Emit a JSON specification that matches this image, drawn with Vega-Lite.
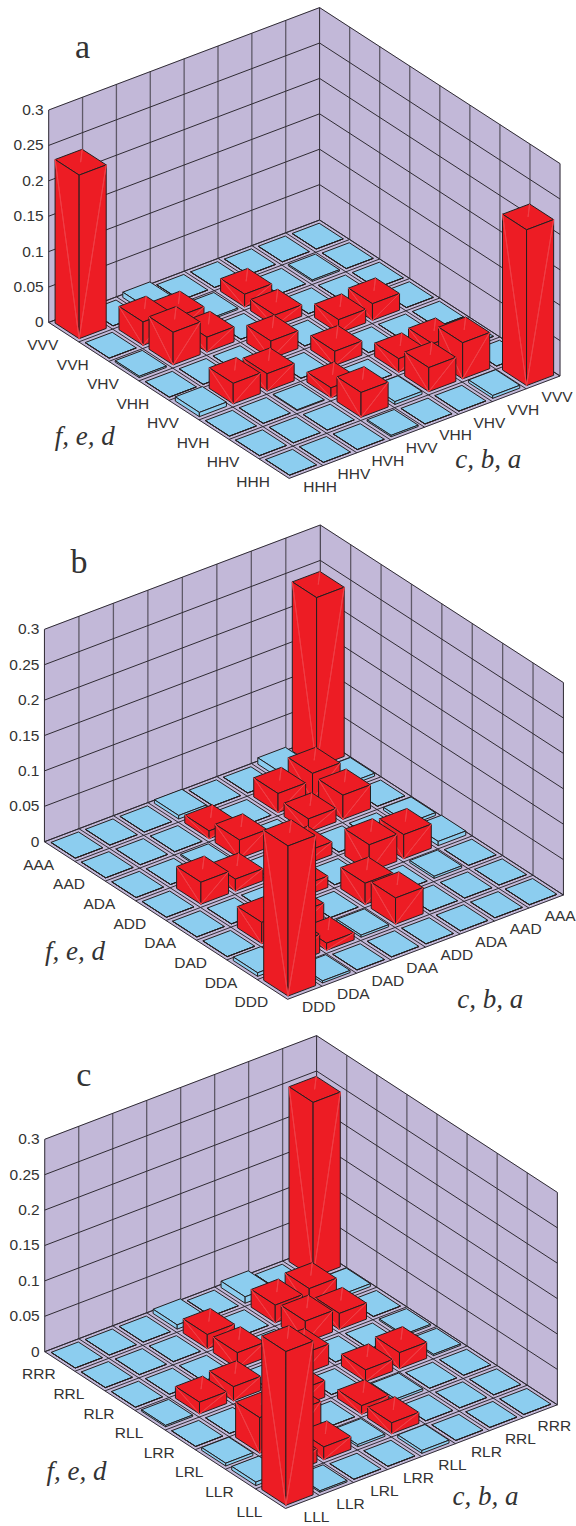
{"$schema":"https://vega.github.io/schema/vega-lite/v6.json","width":576,"height":1526,"autosize":{"type":"fit","contains":"padding"},"padding":0,"background":"white","config":{"view":{"stroke":null}},
"params":[
{"name":"P","value":{"a":{"bx":320.7,"by":220,"ix":30.16,"iy":19.5,"jx":-33.98,"jy":12.8},"b":{"bx":321.4,"by":737.4,"ix":30.5,"iy":19.7,"jx":-34.6,"jy":13.04},"c":{"bx":317.7,"by":1248,"ix":30.2,"iy":19.6,"jx":-34.1,"jy":12.96}}},
{"name":"ZS","value":708},
{"name":"FA","value":{"top":[0,1,1,0],"left":[0,1,1,0],"right":[1,1,1,1],"diagL":[1,0],"diagR":[1,1],"diagT":[0,0.5]}},
{"name":"FB","value":{"top":[0,0,1,1],"left":[1,1,1,1],"right":[0,1,1,0],"diagL":[1,1],"diagR":[1,0],"diagT":[0,0.5]}},
{"name":"FH","value":{"top":[1,1,1,1],"left":[1,1,0,0],"right":[1,1,0,0],"diagL":[0,1],"diagR":[0,1],"diagT":[1,1]}},
{"name":"PA","value":{"left":[0,0,0,0],"right":[0,8,8,0],"floor":[0,8,8,0]}},
{"name":"PB","value":{"left":[8,0,0,8],"right":[0,0,0,0],"floor":[0,0,8,8]}},
{"name":"PH","value":{"left":[0,0,0.3,0.3],"right":[0,0,0.3,0.3],"floor":[0,0,0,0]}}
],
"datasets":{
"planes":[{"plane":"left"},{"plane":"right"},{"plane":"floor"}],
"grid":[{"kind":"leftV","at":[1,2,3,4,5,6,7]},{"kind":"rightV","at":[1,2,3,4,5,6,7]},{"kind":"edgeV","at":[0,8]},{"kind":"edgeW","at":[8]},{"kind":"leftH","at":[0,0.05,0.1,0.15,0.2,0.25,0.3]},{"kind":"rightH","at":[0,0.05,0.1,0.15,0.2,0.25,0.3]},{"kind":"floorI","at":[0,1,2,3,4,5,6,7,8]},{"kind":"floorJ","at":[0,1,2,3,4,5,6,7,8]}],
"ticks":[
{"panel":"a","role":"fed","idx":0,"label":"VVV"},{"panel":"a","role":"fed","idx":1,"label":"VVH"},{"panel":"a","role":"fed","idx":2,"label":"VHV"},{"panel":"a","role":"fed","idx":3,"label":"VHH"},{"panel":"a","role":"fed","idx":4,"label":"HVV"},{"panel":"a","role":"fed","idx":5,"label":"HVH"},{"panel":"a","role":"fed","idx":6,"label":"HHV"},{"panel":"a","role":"fed","idx":7,"label":"HHH"},
{"panel":"a","role":"cba","idx":0,"label":"VVV"},{"panel":"a","role":"cba","idx":1,"label":"VVH"},{"panel":"a","role":"cba","idx":2,"label":"VHV"},{"panel":"a","role":"cba","idx":3,"label":"VHH"},{"panel":"a","role":"cba","idx":4,"label":"HVV"},{"panel":"a","role":"cba","idx":5,"label":"HVH"},{"panel":"a","role":"cba","idx":6,"label":"HHV"},{"panel":"a","role":"cba","idx":7,"label":"HHH"},
{"panel":"b","role":"fed","idx":0,"label":"AAA"},{"panel":"b","role":"fed","idx":1,"label":"AAD"},{"panel":"b","role":"fed","idx":2,"label":"ADA"},{"panel":"b","role":"fed","idx":3,"label":"ADD"},{"panel":"b","role":"fed","idx":4,"label":"DAA"},{"panel":"b","role":"fed","idx":5,"label":"DAD"},{"panel":"b","role":"fed","idx":6,"label":"DDA"},{"panel":"b","role":"fed","idx":7,"label":"DDD"},
{"panel":"b","role":"cba","idx":0,"label":"AAA"},{"panel":"b","role":"cba","idx":1,"label":"AAD"},{"panel":"b","role":"cba","idx":2,"label":"ADA"},{"panel":"b","role":"cba","idx":3,"label":"ADD"},{"panel":"b","role":"cba","idx":4,"label":"DAA"},{"panel":"b","role":"cba","idx":5,"label":"DAD"},{"panel":"b","role":"cba","idx":6,"label":"DDA"},{"panel":"b","role":"cba","idx":7,"label":"DDD"},
{"panel":"c","role":"fed","idx":0,"label":"RRR"},{"panel":"c","role":"fed","idx":1,"label":"RRL"},{"panel":"c","role":"fed","idx":2,"label":"RLR"},{"panel":"c","role":"fed","idx":3,"label":"RLL"},{"panel":"c","role":"fed","idx":4,"label":"LRR"},{"panel":"c","role":"fed","idx":5,"label":"LRL"},{"panel":"c","role":"fed","idx":6,"label":"LLR"},{"panel":"c","role":"fed","idx":7,"label":"LLL"},
{"panel":"c","role":"cba","idx":0,"label":"RRR"},{"panel":"c","role":"cba","idx":1,"label":"RRL"},{"panel":"c","role":"cba","idx":2,"label":"RLR"},{"panel":"c","role":"cba","idx":3,"label":"RLL"},{"panel":"c","role":"cba","idx":4,"label":"LRR"},{"panel":"c","role":"cba","idx":5,"label":"LRL"},{"panel":"c","role":"cba","idx":6,"label":"LLR"},{"panel":"c","role":"cba","idx":7,"label":"LLL"}
],
"zticks":[{"value":0,"label":"0"},{"value":0.05,"label":"0.05"},{"value":0.1,"label":"0.1"},{"value":0.15,"label":"0.15"},{"value":0.2,"label":"0.2"},{"value":0.25,"label":"0.25"},{"value":0.3,"label":"0.3"}],
"titles":[
{"panel":"a","role":"title","label":"a","u":0,"v":7,"w":0.37},{"panel":"b","role":"title","label":"b","u":0,"v":7,"w":0.375},{"panel":"c","role":"title","label":"c","u":0,"v":6.85,"w":0.368},
{"panel":"a","role":"math","label":"f, e, d","u":4.155,"v":10.62,"w":0},{"panel":"a","role":"math","label":"c, b, a","u":9.84,"v":3.75,"w":0},
{"panel":"b","role":"math","label":"f, e, d","u":3.9,"v":10.55,"w":0},{"panel":"b","role":"math","label":"c, b, a","u":10.48,"v":4.31,"w":0},
{"panel":"c","role":"math","label":"f, e, d","u":4.26,"v":10.84,"w":0},{"panel":"c","role":"math","label":"c, b, a","u":10.08,"v":3.96,"w":0}
],
"cells":[
{"panel":"a","fed":0,"cba":0,"value":0},{"panel":"a","fed":0,"cba":1,"value":0},{"panel":"a","fed":0,"cba":2,"value":0},{"panel":"a","fed":0,"cba":3,"value":0},{"panel":"a","fed":0,"cba":4,"value":0},{"panel":"a","fed":0,"cba":5,"value":0.0075},{"panel":"a","fed":0,"cba":6,"value":0},{"panel":"a","fed":0,"cba":7,"value":0.231},
{"panel":"a","fed":1,"cba":0,"value":0},{"panel":"a","fed":1,"cba":1,"value":0.002},{"panel":"a","fed":1,"cba":2,"value":0},{"panel":"a","fed":1,"cba":3,"value":0.018},{"panel":"a","fed":1,"cba":4,"value":0.002},{"panel":"a","fed":1,"cba":5,"value":0.022},{"panel":"a","fed":1,"cba":6,"value":0.033},{"panel":"a","fed":1,"cba":7,"value":0},
{"panel":"a","fed":2,"cba":0,"value":0},{"panel":"a","fed":2,"cba":1,"value":0},{"panel":"a","fed":2,"cba":2,"value":0},{"panel":"a","fed":2,"cba":3,"value":0.016},{"panel":"a","fed":2,"cba":4,"value":0},{"panel":"a","fed":2,"cba":5,"value":0.021},{"panel":"a","fed":2,"cba":6,"value":0.046},{"panel":"a","fed":2,"cba":7,"value":0.002},
{"panel":"a","fed":3,"cba":0,"value":0},{"panel":"a","fed":3,"cba":1,"value":0.0235},{"panel":"a","fed":3,"cba":2,"value":0.019},{"panel":"a","fed":3,"cba":3,"value":0},{"panel":"a","fed":3,"cba":4,"value":0.025},{"panel":"a","fed":3,"cba":5,"value":0},{"panel":"a","fed":3,"cba":6,"value":0},{"panel":"a","fed":3,"cba":7,"value":0},
{"panel":"a","fed":4,"cba":0,"value":0},{"panel":"a","fed":4,"cba":1,"value":0},{"panel":"a","fed":4,"cba":2,"value":0},{"panel":"a","fed":4,"cba":3,"value":0.02},{"panel":"a","fed":4,"cba":4,"value":0},{"panel":"a","fed":4,"cba":5,"value":0.0245},{"panel":"a","fed":4,"cba":6,"value":0.029},{"panel":"a","fed":4,"cba":7,"value":0.006},
{"panel":"a","fed":5,"cba":0,"value":0},{"panel":"a","fed":5,"cba":1,"value":0.022},{"panel":"a","fed":5,"cba":2,"value":0.019},{"panel":"a","fed":5,"cba":3,"value":0},{"panel":"a","fed":5,"cba":4,"value":0.014},{"panel":"a","fed":5,"cba":5,"value":0.001},{"panel":"a","fed":5,"cba":6,"value":0},{"panel":"a","fed":5,"cba":7,"value":0},
{"panel":"a","fed":6,"cba":0,"value":0},{"panel":"a","fed":6,"cba":1,"value":0.051},{"panel":"a","fed":6,"cba":2,"value":0.034},{"panel":"a","fed":6,"cba":3,"value":0.004},{"panel":"a","fed":6,"cba":4,"value":0.035},{"panel":"a","fed":6,"cba":5,"value":0},{"panel":"a","fed":6,"cba":6,"value":0},{"panel":"a","fed":6,"cba":7,"value":0},
{"panel":"a","fed":7,"cba":0,"value":0.22},{"panel":"a","fed":7,"cba":1,"value":0.004},{"panel":"a","fed":7,"cba":2,"value":0},{"panel":"a","fed":7,"cba":3,"value":0},{"panel":"a","fed":7,"cba":4,"value":0.002},{"panel":"a","fed":7,"cba":5,"value":0},{"panel":"a","fed":7,"cba":6,"value":0},{"panel":"a","fed":7,"cba":7,"value":0},
{"panel":"b","fed":0,"cba":0,"value":0.239},{"panel":"b","fed":0,"cba":1,"value":0.009},{"panel":"b","fed":0,"cba":2,"value":0},{"panel":"b","fed":0,"cba":3,"value":0},{"panel":"b","fed":0,"cba":4,"value":0.005},{"panel":"b","fed":0,"cba":5,"value":0},{"panel":"b","fed":0,"cba":6,"value":0},{"panel":"b","fed":0,"cba":7,"value":0},
{"panel":"b","fed":1,"cba":0,"value":0.004},{"panel":"b","fed":1,"cba":1,"value":0.037},{"panel":"b","fed":1,"cba":2,"value":0.027},{"panel":"b","fed":1,"cba":3,"value":0},{"panel":"b","fed":1,"cba":4,"value":0.011},{"panel":"b","fed":1,"cba":5,"value":0},{"panel":"b","fed":1,"cba":6,"value":0},{"panel":"b","fed":1,"cba":7,"value":0},
{"panel":"b","fed":2,"cba":0,"value":0},{"panel":"b","fed":2,"cba":1,"value":0.034},{"panel":"b","fed":2,"cba":2,"value":0.019},{"panel":"b","fed":2,"cba":3,"value":0},{"panel":"b","fed":2,"cba":4,"value":0.026},{"panel":"b","fed":2,"cba":5,"value":0.002},{"panel":"b","fed":2,"cba":6,"value":0},{"panel":"b","fed":2,"cba":7,"value":0},
{"panel":"b","fed":3,"cba":0,"value":0.004},{"panel":"b","fed":3,"cba":1,"value":0},{"panel":"b","fed":3,"cba":2,"value":0},{"panel":"b","fed":3,"cba":3,"value":0.018},{"panel":"b","fed":3,"cba":4,"value":0},{"panel":"b","fed":3,"cba":5,"value":0.017},{"panel":"b","fed":3,"cba":6,"value":0.031},{"panel":"b","fed":3,"cba":7,"value":0},
{"panel":"b","fed":4,"cba":0,"value":0.006},{"panel":"b","fed":4,"cba":1,"value":0.034},{"panel":"b","fed":4,"cba":2,"value":0.038},{"panel":"b","fed":4,"cba":3,"value":0},{"panel":"b","fed":4,"cba":4,"value":0.016},{"panel":"b","fed":4,"cba":5,"value":0},{"panel":"b","fed":4,"cba":6,"value":0},{"panel":"b","fed":4,"cba":7,"value":0},
{"panel":"b","fed":5,"cba":0,"value":0},{"panel":"b","fed":5,"cba":1,"value":0.003},{"panel":"b","fed":5,"cba":2,"value":0},{"panel":"b","fed":5,"cba":3,"value":0.03},{"panel":"b","fed":5,"cba":4,"value":0},{"panel":"b","fed":5,"cba":5,"value":0.024},{"panel":"b","fed":5,"cba":6,"value":0.03},{"panel":"b","fed":5,"cba":7,"value":0},
{"panel":"b","fed":6,"cba":0,"value":0},{"panel":"b","fed":6,"cba":1,"value":0},{"panel":"b","fed":6,"cba":2,"value":0},{"panel":"b","fed":6,"cba":3,"value":0.037},{"panel":"b","fed":6,"cba":4,"value":0.003},{"panel":"b","fed":6,"cba":5,"value":0.01},{"panel":"b","fed":6,"cba":6,"value":0.026},{"panel":"b","fed":6,"cba":7,"value":0.005},
{"panel":"b","fed":7,"cba":0,"value":0},{"panel":"b","fed":7,"cba":1,"value":0},{"panel":"b","fed":7,"cba":2,"value":0},{"panel":"b","fed":7,"cba":3,"value":0},{"panel":"b","fed":7,"cba":4,"value":0},{"panel":"b","fed":7,"cba":5,"value":0},{"panel":"b","fed":7,"cba":6,"value":0.003},{"panel":"b","fed":7,"cba":7,"value":0.212},
{"panel":"c","fed":0,"cba":0,"value":0.247},{"panel":"c","fed":0,"cba":1,"value":0},{"panel":"c","fed":0,"cba":2,"value":0.009},{"panel":"c","fed":0,"cba":3,"value":0},{"panel":"c","fed":0,"cba":4,"value":0.006},{"panel":"c","fed":0,"cba":5,"value":0},{"panel":"c","fed":0,"cba":6,"value":0},{"panel":"c","fed":0,"cba":7,"value":0},
{"panel":"c","fed":1,"cba":0,"value":0.004},{"panel":"c","fed":1,"cba":1,"value":0.03},{"panel":"c","fed":1,"cba":2,"value":0.025},{"panel":"c","fed":1,"cba":3,"value":0},{"panel":"c","fed":1,"cba":4,"value":0.02},{"panel":"c","fed":1,"cba":5,"value":0},{"panel":"c","fed":1,"cba":6,"value":0},{"panel":"c","fed":1,"cba":7,"value":0},
{"panel":"c","fed":2,"cba":0,"value":0},{"panel":"c","fed":2,"cba":1,"value":0.0226},{"panel":"c","fed":2,"cba":2,"value":0.03},{"panel":"c","fed":2,"cba":3,"value":0},{"panel":"c","fed":2,"cba":4,"value":0.022},{"panel":"c","fed":2,"cba":5,"value":0},{"panel":"c","fed":2,"cba":6,"value":0},{"panel":"c","fed":2,"cba":7,"value":0},
{"panel":"c","fed":3,"cba":0,"value":0.002},{"panel":"c","fed":3,"cba":1,"value":0},{"panel":"c","fed":3,"cba":2,"value":0},{"panel":"c","fed":3,"cba":3,"value":0.029},{"panel":"c","fed":3,"cba":4,"value":0},{"panel":"c","fed":3,"cba":5,"value":0.02},{"panel":"c","fed":3,"cba":6,"value":0.0165},{"panel":"c","fed":3,"cba":7,"value":0.002},
{"panel":"c","fed":4,"cba":0,"value":0.002},{"panel":"c","fed":4,"cba":1,"value":0.0226},{"panel":"c","fed":4,"cba":2,"value":0.0165},{"panel":"c","fed":4,"cba":3,"value":0},{"panel":"c","fed":4,"cba":4,"value":0.0235},{"panel":"c","fed":4,"cba":5,"value":0},{"panel":"c","fed":4,"cba":6,"value":0},{"panel":"c","fed":4,"cba":7,"value":0},
{"panel":"c","fed":5,"cba":0,"value":0},{"panel":"c","fed":5,"cba":1,"value":0},{"panel":"c","fed":5,"cba":2,"value":0.003},{"panel":"c","fed":5,"cba":3,"value":0.012},{"panel":"c","fed":5,"cba":4,"value":0},{"panel":"c","fed":5,"cba":5,"value":0.04},{"panel":"c","fed":5,"cba":6,"value":0.05},{"panel":"c","fed":5,"cba":7,"value":0.004},
{"panel":"c","fed":6,"cba":0,"value":0},{"panel":"c","fed":6,"cba":1,"value":0},{"panel":"c","fed":6,"cba":2,"value":0},{"panel":"c","fed":6,"cba":3,"value":0.0155},{"panel":"c","fed":6,"cba":4,"value":0.003},{"panel":"c","fed":6,"cba":5,"value":0.018},{"panel":"c","fed":6,"cba":6,"value":0.019},{"panel":"c","fed":6,"cba":7,"value":0.005},
{"panel":"c","fed":7,"cba":0,"value":0},{"panel":"c","fed":7,"cba":1,"value":0},{"panel":"c","fed":7,"cba":2,"value":0},{"panel":"c","fed":7,"cba":3,"value":0.004},{"panel":"c","fed":7,"cba":4,"value":0},{"panel":"c","fed":7,"cba":5,"value":0},{"panel":"c","fed":7,"cba":6,"value":0.002},{"panel":"c","fed":7,"cba":7,"value":0.217}
]},
"encoding":{"x":{"field":"px","type":"quantitative","scale":{"domain":[0,576],"nice":false,"zero":false},"axis":null},"y":{"field":"py","type":"quantitative","scale":{"domain":[1526,0],"nice":false,"zero":false},"axis":null}},
"layer":[
{"data":{"name":"planes"},"transform":[
{"calculate":"['a','b','c']","as":"panel"},{"flatten":["panel"]},
{"calculate":"[0,1,2,3]","as":"corner"},{"flatten":["corner"]},
{"calculate":"PA[datum.plane][datum.corner]","as":"u"},{"calculate":"PB[datum.plane][datum.corner]","as":"v"},{"calculate":"PH[datum.plane][datum.corner]","as":"w"},
{"calculate":"P[datum.panel].bx+datum.u*P[datum.panel].ix+datum.v*P[datum.panel].jx","as":"px"},
{"calculate":"P[datum.panel].by+datum.u*P[datum.panel].iy+datum.v*P[datum.panel].jy-datum.w*ZS","as":"py"},
{"calculate":"datum.panel+datum.plane","as":"poly"}],
"mark":{"type":"line","interpolate":"linear-closed","fill":"#c2b8d8","stroke":"#c2b8d8","strokeWidth":0.5},
"encoding":{"detail":{"field":"poly"},"order":{"field":"corner","type":"quantitative"}}},
{"data":{"name":"grid"},"transform":[
{"filter":"datum.kind==='leftV'||datum.kind==='rightV'"},
{"calculate":"['a','b','c']","as":"panel"},{"flatten":["panel"]},{"flatten":["at"]},
{"calculate":"[0,1]","as":"end"},{"flatten":["end"]},
{"calculate":"datum.kind==='rightV'?datum.at:0","as":"u"},
{"calculate":"datum.kind==='leftV'?datum.at:0","as":"v"},
{"calculate":"datum.end*0.3","as":"w"},
{"calculate":"P[datum.panel].bx+datum.u*P[datum.panel].ix+datum.v*P[datum.panel].jx","as":"px"},
{"calculate":"P[datum.panel].by+datum.u*P[datum.panel].iy+datum.v*P[datum.panel].jy-datum.w*ZS","as":"py"},
{"calculate":"datum.panel+datum.kind+datum.at","as":"poly"}],
"mark":{"type":"line","stroke":"#5f5a68","strokeWidth":1.3},
"encoding":{"detail":{"field":"poly"},"order":{"field":"end","type":"quantitative"}}},
{"data":{"name":"grid"},"transform":[
{"filter":"datum.kind!=='leftV'&&datum.kind!=='rightV'"},
{"calculate":"['a','b','c']","as":"panel"},{"flatten":["panel"]},{"flatten":["at"]},
{"calculate":"[0,1]","as":"end"},{"flatten":["end"]},
{"calculate":"datum.kind==='edgeW'?8:datum.kind==='rightH'||datum.kind==='floorJ'?datum.end*8:datum.kind==='floorI'?datum.at:0","as":"u"},
{"calculate":"datum.kind==='edgeV'?datum.at:datum.kind==='floorJ'?datum.at:(datum.kind==='leftH'||datum.kind==='floorI')?datum.end*8:0","as":"v"},
{"calculate":"(datum.kind==='edgeV'||datum.kind==='edgeW')?datum.end*0.3:(datum.kind==='leftH'||datum.kind==='rightH')?datum.at:0","as":"w"},
{"calculate":"P[datum.panel].bx+datum.u*P[datum.panel].ix+datum.v*P[datum.panel].jx","as":"px"},
{"calculate":"P[datum.panel].by+datum.u*P[datum.panel].iy+datum.v*P[datum.panel].jy-datum.w*ZS","as":"py"},
{"calculate":"datum.panel+datum.kind+datum.at","as":"poly"}],
"mark":{"type":"line","stroke":"#2f2b33","strokeWidth":1},
"encoding":{"detail":{"field":"poly"},"order":{"field":"end","type":"quantitative"}}},
{"data":{"name":"cells"},"transform":[
{"calculate":"datum.value>=0.0095?['top','left','right','diagL','diagR','diagT']:['top','left','right']","as":"face"},{"flatten":["face"]},
{"calculate":"indexof(['diagL','diagR','diagT'],datum.face)>=0?[0,1]:[0,1,2,3]","as":"corner"},{"flatten":["corner"]},
{"calculate":"datum.fed+0.1+0.8*FA[datum.face][datum.corner]","as":"u"},
{"calculate":"datum.cba+0.1+0.8*FB[datum.face][datum.corner]","as":"v"},
{"calculate":"datum.value*FH[datum.face][datum.corner]","as":"w"},
{"calculate":"P[datum.panel].bx+datum.u*P[datum.panel].ix+datum.v*P[datum.panel].jx","as":"px"},
{"calculate":"P[datum.panel].by+datum.u*P[datum.panel].iy+datum.v*P[datum.panel].jy-datum.w*ZS","as":"py"},
{"calculate":"datum.panel+'_'+datum.fed+'_'+datum.cba+'_'+datum.face","as":"poly"},
{"calculate":"indexof(['diagL','diagR','diagT'],datum.face)>=0?'none':datum.value>=0.0095?'#ed1c24':'#8ccdef'","as":"paint"},
{"calculate":"indexof(['diagL','diagR','diagT'],datum.face)>=0?'#ef3f46':'#231f20'","as":"edge"}],
"mark":{"type":"line","interpolate":"linear-closed","strokeWidth":1,"strokeJoin":"miter"},
"encoding":{"detail":{"field":"poly"},"order":{"field":"corner","type":"quantitative"},"fill":{"field":"paint","type":"nominal","scale":null},"stroke":{"field":"edge","type":"nominal","scale":null}}},
{"data":{"name":"ticks"},"transform":[{"filter":"datum.role==='fed'"},
{"calculate":"datum.idx+0.5","as":"u"},{"calculate":"8","as":"v"},
{"calculate":"P[datum.panel].bx+datum.u*P[datum.panel].ix+datum.v*P[datum.panel].jx","as":"px"},
{"calculate":"P[datum.panel].by+datum.u*P[datum.panel].iy+datum.v*P[datum.panel].jy","as":"py"}],
"mark":{"type":"text","font":"Liberation Sans","fontSize":15.5,"fill":"#333333","align":"center","baseline":"middle","dx":-21,"dy":13},
"encoding":{"text":{"field":"label"}}},
{"data":{"name":"ticks"},"transform":[{"filter":"datum.role==='cba'"},
{"calculate":"8","as":"u"},{"calculate":"datum.idx+0.5","as":"v"},
{"calculate":"P[datum.panel].bx+datum.u*P[datum.panel].ix+datum.v*P[datum.panel].jx","as":"px"},
{"calculate":"P[datum.panel].by+datum.u*P[datum.panel].iy+datum.v*P[datum.panel].jy","as":"py"}],
"mark":{"type":"text","font":"Liberation Sans","fontSize":15.5,"fill":"#333333","align":"center","baseline":"middle","dx":14,"dy":14.5},
"encoding":{"text":{"field":"label"}}},
{"data":{"name":"zticks"},"transform":[
{"calculate":"['a','b','c']","as":"panel"},{"flatten":["panel"]},
{"calculate":"P[datum.panel].bx+8*P[datum.panel].jx","as":"px"},
{"calculate":"P[datum.panel].by+8*P[datum.panel].jy-datum.value*ZS","as":"py"}],
"mark":{"type":"text","font":"Liberation Sans","fontSize":15.5,"fill":"#333333","align":"right","baseline":"middle","dx":-5},
"encoding":{"text":{"field":"label"}}},
{"data":{"name":"titles"},"transform":[{"filter":"datum.role==='math'"},
{"calculate":"P[datum.panel].bx+datum.u*P[datum.panel].ix+datum.v*P[datum.panel].jx","as":"px"},
{"calculate":"P[datum.panel].by+datum.u*P[datum.panel].iy+datum.v*P[datum.panel].jy-datum.w*ZS","as":"py"}],
"mark":{"type":"text","font":"Liberation Serif","fontStyle":"italic","fontSize":27,"fill":"#333333","align":"center","baseline":"middle"},
"encoding":{"text":{"field":"label"}}},
{"data":{"name":"titles"},"transform":[{"filter":"datum.role==='title'"},
{"calculate":"P[datum.panel].bx+datum.u*P[datum.panel].ix+datum.v*P[datum.panel].jx","as":"px"},
{"calculate":"P[datum.panel].by+datum.u*P[datum.panel].iy+datum.v*P[datum.panel].jy-datum.w*ZS","as":"py"}],
"mark":{"type":"text","font":"Liberation Serif","fontSize":34,"fill":"#333333","align":"center","baseline":"middle"},
"encoding":{"text":{"field":"label"}}}
]}
